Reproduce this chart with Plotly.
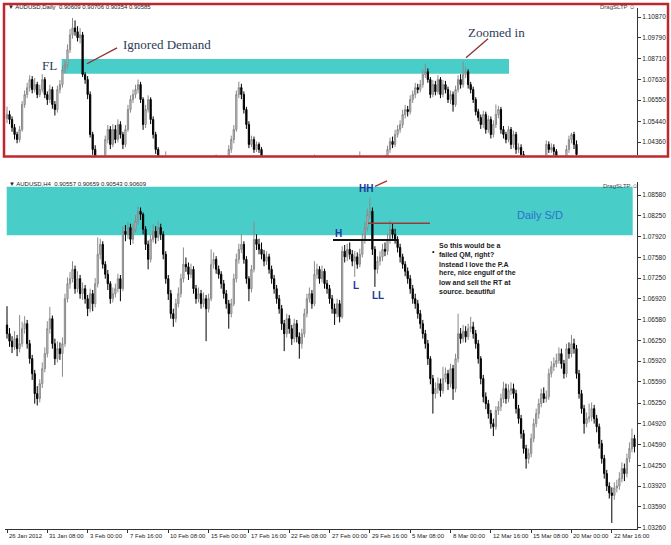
import plotly.graph_objects as go

W, H = 671, 545

# ---------------- Daily chart (top panel) ----------------
d1_first_open = 1.0560
d1_closes = [
    1.0580, 1.0554, 1.0512, 1.0476, 1.0450, 1.0502, 1.0632, 1.0684, 1.0720, 1.0762,
    1.0710, 1.0736, 1.0684, 1.0710, 1.0762, 1.0684, 1.0658, 1.0710, 1.0632, 1.0606,
    1.0710, 1.0736, 1.0813, 1.0839, 1.0917, 1.0995, 1.1031, 1.1011, 1.0980, 1.0995,
    1.0788, 1.0762, 1.0684, 1.0476, 1.0398, 1.0346, 1.0294, 1.0268, 1.0320, 1.0450,
    1.0502, 1.0424, 1.0502, 1.0450, 1.0528, 1.0476, 1.0424, 1.0502, 1.0606, 1.0658,
    1.0684, 1.0710, 1.0736, 1.0658, 1.0528, 1.0606, 1.0658, 1.0554, 1.0476, 1.0398,
    1.0320, 1.0290, 1.0305, 1.0330, 1.0300, 1.0270, 1.0250, 1.0235, 1.0220, 1.0240,
    1.0210, 1.0190, 1.0200, 1.0175, 1.0160, 1.0185, 1.0205, 1.0230, 1.0250, 1.0270,
    1.0290, 1.0300, 1.0320, 1.0335, 1.0310, 1.0300, 1.0320, 1.0340, 1.0398, 1.0450,
    1.0502, 1.0684, 1.0720, 1.0684, 1.0606, 1.0528, 1.0424, 1.0450, 1.0398, 1.0424,
    1.0398, 1.0346, 1.0320, 1.0290, 1.0260, 1.0230, 1.0210, 1.0180, 1.0150, 1.0120,
    1.0100, 1.0080, 1.0110, 1.0140, 1.0170, 1.0200, 1.0230, 1.0260, 1.0290, 1.0310,
    1.0330, 1.0340, 1.0345, 1.0320, 1.0290, 1.0260, 1.0230, 1.0200, 1.0170, 1.0140,
    1.0110, 1.0090, 1.0110, 1.0140, 1.0170, 1.0200, 1.0240, 1.0270, 1.0300, 1.0330,
    1.0345, 1.0310, 1.0280, 1.0260, 1.0240, 1.0260, 1.0280, 1.0300, 1.0320, 1.0340,
    1.0355, 1.0398, 1.0440, 1.0424, 1.0476, 1.0502, 1.0528, 1.0580, 1.0606, 1.0595,
    1.0658, 1.0684, 1.0720, 1.0710, 1.0736, 1.0788, 1.0803, 1.0762, 1.0684, 1.0736,
    1.0699, 1.0762, 1.0684, 1.0736, 1.0710, 1.0658, 1.0684, 1.0632, 1.0710, 1.0762,
    1.0736, 1.0788, 1.0803, 1.0736, 1.0710, 1.0658, 1.0595, 1.0564, 1.0528, 1.0580,
    1.0502, 1.0554, 1.0476, 1.0528, 1.0580, 1.0606, 1.0502, 1.0476, 1.0450, 1.0502,
    1.0424, 1.0476, 1.0398, 1.0408, 1.0372, 1.0346, 1.0320, 1.0300, 1.0280, 1.0295,
    1.0310, 1.0330, 1.0345, 1.0350, 1.0424, 1.0398, 1.0408, 1.0388, 1.0320, 1.0300,
    1.0320, 1.0345, 1.0398, 1.0450, 1.0476, 1.0424, 1.0372,
]
d1_highs = [
    1.0621, 1.0600, 1.0570, 1.0530, 1.0490, 1.0520, 1.0650, 1.0705, 1.0745, 1.0785,
    1.0780, 1.0770, 1.0750, 1.0735, 1.0790, 1.0775, 1.0700, 1.0735, 1.0725, 1.0650,
    1.0730, 1.0760, 1.0835, 1.0860, 1.0945, 1.1025, 1.1083, 1.1070, 1.1040, 1.1030,
    1.1010, 1.0800, 1.0780, 1.0700, 1.0490, 1.0420, 1.0365, 1.0310, 1.0340, 1.0470,
    1.0525, 1.0520, 1.0530, 1.0525, 1.0555, 1.0545, 1.0490, 1.0525, 1.0630, 1.0680,
    1.0710, 1.0735, 1.0762, 1.0750, 1.0670, 1.0630, 1.0680, 1.0670, 1.0570, 1.0490,
    1.0410, 1.0335, 1.0325, 1.0388, 1.0345, 1.0315, 1.0290, 1.0265, 1.0250, 1.0260,
    1.0255, 1.0225, 1.0220, 1.0215, 1.0190, 1.0200, 1.0225, 1.0250, 1.0270, 1.0290,
    1.0310, 1.0320, 1.0340, 1.0372, 1.0350, 1.0330, 1.0340, 1.0360, 1.0420, 1.0470,
    1.0525, 1.0705, 1.0751, 1.0740, 1.0700, 1.0620, 1.0545, 1.0470, 1.0465, 1.0440,
    1.0435, 1.0410, 1.0360, 1.0335, 1.0305, 1.0275, 1.0245, 1.0225, 1.0195, 1.0165,
    1.0135, 1.0115, 1.0125, 1.0155, 1.0185, 1.0215, 1.0245, 1.0275, 1.0305, 1.0325,
    1.0345, 1.0355, 1.0372, 1.0360, 1.0335, 1.0305, 1.0275, 1.0245, 1.0215, 1.0185,
    1.0155, 1.0125, 1.0125, 1.0155, 1.0185, 1.0215, 1.0255, 1.0285, 1.0315, 1.0345,
    1.0388, 1.0360, 1.0325, 1.0295, 1.0275, 1.0275, 1.0295, 1.0315, 1.0335, 1.0355,
    1.0370, 1.0418, 1.0460, 1.0465, 1.0500, 1.0525, 1.0550, 1.0605, 1.0630, 1.0625,
    1.0680, 1.0705, 1.0745, 1.0740, 1.0760, 1.0815, 1.0844, 1.0820, 1.0775, 1.0760,
    1.0755, 1.0785, 1.0775, 1.0760, 1.0755, 1.0725, 1.0705, 1.0700, 1.0730, 1.0785,
    1.0790, 1.0855, 1.0830, 1.0815, 1.0750, 1.0725, 1.0670, 1.0610, 1.0580, 1.0600,
    1.0595, 1.0575, 1.0570, 1.0550, 1.0632, 1.0625, 1.0620, 1.0520, 1.0490, 1.0520,
    1.0515, 1.0495, 1.0490, 1.0430, 1.0425, 1.0390, 1.0360, 1.0335, 1.0315, 1.0310,
    1.0325, 1.0345, 1.0360, 1.0365, 1.0445, 1.0440, 1.0430, 1.0425, 1.0400, 1.0335,
    1.0340, 1.0360, 1.0420, 1.0470, 1.0485, 1.0490, 1.0445,
]
d1_lows = [
    1.0535, 1.0530, 1.0490, 1.0450, 1.0430, 1.0435, 1.0490, 1.0615, 1.0665, 1.0700,
    1.0690, 1.0695, 1.0665, 1.0670, 1.0695, 1.0665, 1.0630, 1.0640, 1.0610, 1.0575,
    1.0590, 1.0690, 1.0720, 1.0795, 1.0820, 1.0900, 1.0975, 1.0990, 1.0960, 1.0950,
    1.0775, 1.0740, 1.0660, 1.0460, 1.0370, 1.0320, 1.0270, 1.0240, 1.0250, 1.0300,
    1.0430, 1.0400, 1.0410, 1.0430, 1.0435, 1.0455, 1.0400, 1.0410, 1.0490, 1.0590,
    1.0640, 1.0665, 1.0690, 1.0640, 1.0500, 1.0510, 1.0590, 1.0530, 1.0455, 1.0375,
    1.0300, 1.0270, 1.0275, 1.0290, 1.0280, 1.0250, 1.0230, 1.0215, 1.0200, 1.0205,
    1.0190, 1.0170, 1.0175, 1.0155, 1.0140, 1.0145, 1.0170, 1.0190, 1.0215, 1.0235,
    1.0255, 1.0275, 1.0285, 1.0305, 1.0290, 1.0280, 1.0285, 1.0305, 1.0325, 1.0380,
    1.0430, 1.0490, 1.0665, 1.0660, 1.0585, 1.0505, 1.0405, 1.0410, 1.0380, 1.0385,
    1.0380, 1.0325, 1.0300, 1.0270, 1.0240, 1.0210, 1.0190, 1.0160, 1.0130, 1.0100,
    1.0080, 1.0060, 1.0065, 1.0095, 1.0125, 1.0155, 1.0185, 1.0215, 1.0245, 1.0275,
    1.0295, 1.0315, 1.0325, 1.0300, 1.0270, 1.0240, 1.0210, 1.0180, 1.0150, 1.0120,
    1.0090, 1.0070, 1.0075, 1.0095, 1.0125, 1.0155, 1.0185, 1.0225, 1.0255, 1.0285,
    1.0315, 1.0290, 1.0260, 1.0240, 1.0220, 1.0225, 1.0245, 1.0265, 1.0285, 1.0305,
    1.0325, 1.0340, 1.0380, 1.0405, 1.0410, 1.0460, 1.0485, 1.0510, 1.0560, 1.0570,
    1.0580, 1.0640, 1.0665, 1.0690, 1.0695, 1.0720, 1.0770, 1.0745, 1.0665, 1.0670,
    1.0680, 1.0685, 1.0665, 1.0670, 1.0690, 1.0640, 1.0635, 1.0595, 1.0620, 1.0695,
    1.0715, 1.0720, 1.0770, 1.0715, 1.0690, 1.0640, 1.0575, 1.0545, 1.0505, 1.0510,
    1.0480, 1.0485, 1.0455, 1.0460, 1.0510, 1.0560, 1.0480, 1.0455, 1.0430, 1.0435,
    1.0400, 1.0405, 1.0375, 1.0380, 1.0350, 1.0325, 1.0300, 1.0280, 1.0260, 1.0265,
    1.0280, 1.0295, 1.0315, 1.0330, 1.0335, 1.0380, 1.0380, 1.0365, 1.0300, 1.0280,
    1.0285, 1.0305, 1.0330, 1.0380, 1.0430, 1.0400, 1.0350,
]
d1_tick_vals = [1.10870, 1.09790, 1.08710, 1.07630, 1.06550, 1.05440, 1.04360]
d1_zone = [1.07926, 1.08690]

# ---------------- H4 chart (bottom panel) ----------------
h4_first_open = 1.0650
h4_closes = [
    1.0636, 1.0624, 1.0615, 1.0628, 1.0612, 1.0620, 1.0644, 1.0652, 1.0620, 1.0596,
    1.0572, 1.0540, 1.0532, 1.0556, 1.0580, 1.0604, 1.0644, 1.0660, 1.0620, 1.0596,
    1.0612, 1.0604, 1.0620, 1.0692, 1.0716, 1.0724, 1.0739, 1.0708, 1.0724, 1.0700,
    1.0708, 1.0692, 1.0676, 1.0700, 1.0684, 1.0716, 1.0763, 1.0779, 1.0747, 1.0731,
    1.0716, 1.0692, 1.0700, 1.0708, 1.0724, 1.0708, 1.0800, 1.0795, 1.0806, 1.0787,
    1.0803, 1.0816, 1.0832, 1.0827, 1.0803, 1.0779, 1.0755, 1.0787, 1.0800, 1.0790,
    1.0806, 1.0795, 1.0763, 1.0724, 1.0700, 1.0668, 1.0660, 1.0684, 1.0700, 1.0724,
    1.0747, 1.0743, 1.0731, 1.0739, 1.0708, 1.0692, 1.0700, 1.0684, 1.0692, 1.0676,
    1.0692, 1.0747, 1.0755, 1.0739, 1.0731, 1.0716, 1.0700, 1.0684, 1.0668, 1.0684,
    1.0724, 1.0755, 1.0771, 1.0779, 1.0755, 1.0724, 1.0708, 1.0739, 1.0787, 1.0779,
    1.0771, 1.0763, 1.0752, 1.0759, 1.0739, 1.0724, 1.0708, 1.0692, 1.0676, 1.0652,
    1.0636, 1.0660, 1.0644, 1.0628, 1.0652, 1.0631, 1.0620, 1.0636, 1.0668, 1.0692,
    1.0700, 1.0684, 1.0731, 1.0739, 1.0724, 1.0736, 1.0716, 1.0708, 1.0692, 1.0676,
    1.0668, 1.0684, 1.0663, 1.0768, 1.0759, 1.0771, 1.0763, 1.0752, 1.0759, 1.0747,
    1.0763, 1.0787, 1.0806, 1.0827, 1.0832, 1.0771, 1.0739, 1.0752, 1.0759, 1.0771,
    1.0768, 1.0787, 1.0803, 1.0795, 1.0787, 1.0774, 1.0759, 1.0747, 1.0736, 1.0724,
    1.0708, 1.0692, 1.0684, 1.0668, 1.0652, 1.0636, 1.0620, 1.0596, 1.0564, 1.0540,
    1.0548, 1.0556, 1.0545, 1.0564, 1.0572, 1.0556, 1.0580, 1.0548, 1.0596, 1.0636,
    1.0628, 1.0640, 1.0631, 1.0644, 1.0647, 1.0636, 1.0620, 1.0596, 1.0564, 1.0535,
    1.0524, 1.0508, 1.0492, 1.0487, 1.0513, 1.0519, 1.0532, 1.0548, 1.0532, 1.0545,
    1.0548, 1.0540, 1.0516, 1.0500, 1.0476, 1.0452, 1.0436, 1.0444, 1.0468, 1.0492,
    1.0508, 1.0524, 1.0540, 1.0532, 1.0535, 1.0572, 1.0583, 1.0588, 1.0593, 1.0604,
    1.0588, 1.0572, 1.0612, 1.0604, 1.0620, 1.0612, 1.0572, 1.0540, 1.0516, 1.0492,
    1.0500, 1.0503, 1.0516, 1.0500, 1.0487, 1.0460, 1.0436, 1.0412, 1.0392, 1.0381,
    1.0377, 1.0389, 1.0392, 1.0404, 1.0420, 1.0412, 1.0436, 1.0452, 1.0468, 1.0455,
]
h4_highs = [
    1.0680, 1.0645, 1.0632, 1.0640, 1.0634, 1.0666, 1.0655, 1.0664, 1.0658, 1.0626,
    1.0602, 1.0578, 1.0552, 1.0563, 1.0590, 1.0614, 1.0656, 1.0679, 1.0665, 1.0628,
    1.0624, 1.0622, 1.0630, 1.0700, 1.0726, 1.0735, 1.0752, 1.0745, 1.0736, 1.0730,
    1.0718, 1.0714, 1.0698, 1.0708, 1.0706, 1.0725, 1.0790, 1.0788, 1.0784, 1.0752,
    1.0738, 1.0720, 1.0710, 1.0716, 1.0732, 1.0730, 1.0808, 1.0810, 1.0815, 1.0812,
    1.0812, 1.0826, 1.0840, 1.0838, 1.0830, 1.0808, 1.0785, 1.0795, 1.0811, 1.0808,
    1.0816, 1.0812, 1.0800, 1.0768, 1.0730, 1.0706, 1.0676, 1.0692, 1.0710, 1.0732,
    1.0774, 1.0758, 1.0750, 1.0748, 1.0744, 1.0714, 1.0710, 1.0706, 1.0702, 1.0698,
    1.0700, 1.0771, 1.0766, 1.0760, 1.0745, 1.0736, 1.0722, 1.0706, 1.0690, 1.0692,
    1.0732, 1.0764, 1.0780, 1.0795, 1.0784, 1.0760, 1.0728, 1.0746, 1.0816, 1.0795,
    1.0788, 1.0782, 1.0770, 1.0768, 1.0764, 1.0745, 1.0730, 1.0714, 1.0698, 1.0682,
    1.0658, 1.0668, 1.0666, 1.0650, 1.0660, 1.0658, 1.0638, 1.0644, 1.0676, 1.0700,
    1.0710, 1.0706, 1.0752, 1.0748, 1.0744, 1.0745, 1.0740, 1.0722, 1.0714, 1.0698,
    1.0684, 1.0692, 1.0690, 1.0776, 1.0778, 1.0780, 1.0782, 1.0770, 1.0768, 1.0766,
    1.0772, 1.0796, 1.0815, 1.0836, 1.0854, 1.0838, 1.0776, 1.0760, 1.0768, 1.0780,
    1.0782, 1.0796, 1.0818, 1.0812, 1.0804, 1.0792, 1.0780, 1.0764, 1.0752, 1.0742,
    1.0730, 1.0714, 1.0700, 1.0690, 1.0674, 1.0658, 1.0642, 1.0626, 1.0600, 1.0570,
    1.0558, 1.0566, 1.0564, 1.0583, 1.0582, 1.0578, 1.0588, 1.0586, 1.0604, 1.0668,
    1.0645, 1.0650, 1.0648, 1.0652, 1.0663, 1.0655, 1.0642, 1.0626, 1.0600, 1.0570,
    1.0542, 1.0530, 1.0514, 1.0500, 1.0520, 1.0528, 1.0540, 1.0559, 1.0556, 1.0555,
    1.0558, 1.0556, 1.0546, 1.0522, 1.0506, 1.0482, 1.0458, 1.0452, 1.0476, 1.0500,
    1.0516, 1.0532, 1.0548, 1.0550, 1.0545, 1.0580, 1.0592, 1.0598, 1.0604, 1.0614,
    1.0612, 1.0594, 1.0620, 1.0622, 1.0634, 1.0628, 1.0618, 1.0578, 1.0546, 1.0522,
    1.0510, 1.0524, 1.0526, 1.0522, 1.0506, 1.0492, 1.0466, 1.0442, 1.0418, 1.0398,
    1.0390, 1.0398, 1.0402, 1.0414, 1.0430, 1.0428, 1.0444, 1.0462, 1.0484, 1.0474,
]
h4_lows = [
    1.0628, 1.0615, 1.0605, 1.0610, 1.0600, 1.0606, 1.0615, 1.0636, 1.0612, 1.0588,
    1.0562, 1.0524, 1.0521, 1.0526, 1.0549, 1.0574, 1.0598, 1.0636, 1.0612, 1.0586,
    1.0590, 1.0594, 1.0567, 1.0615, 1.0686, 1.0708, 1.0718, 1.0700, 1.0702, 1.0692,
    1.0690, 1.0684, 1.0664, 1.0670, 1.0672, 1.0678, 1.0710, 1.0755, 1.0740, 1.0724,
    1.0706, 1.0684, 1.0686, 1.0694, 1.0702, 1.0688, 1.0704, 1.0784, 1.0788, 1.0778,
    1.0780, 1.0798, 1.0810, 1.0818, 1.0795, 1.0770, 1.0739, 1.0750, 1.0782, 1.0780,
    1.0784, 1.0786, 1.0755, 1.0716, 1.0690, 1.0660, 1.0647, 1.0654, 1.0678, 1.0694,
    1.0718, 1.0735, 1.0722, 1.0725, 1.0700, 1.0684, 1.0686, 1.0676, 1.0678, 1.0624,
    1.0670, 1.0688, 1.0740, 1.0732, 1.0724, 1.0708, 1.0692, 1.0676, 1.0644, 1.0662,
    1.0680, 1.0718, 1.0748, 1.0765, 1.0748, 1.0716, 1.0688, 1.0702, 1.0734, 1.0770,
    1.0763, 1.0755, 1.0744, 1.0746, 1.0732, 1.0716, 1.0700, 1.0684, 1.0668, 1.0642,
    1.0608, 1.0630, 1.0636, 1.0618, 1.0622, 1.0622, 1.0596, 1.0612, 1.0630, 1.0662,
    1.0686, 1.0676, 1.0680, 1.0724, 1.0716, 1.0718, 1.0708, 1.0700, 1.0684, 1.0668,
    1.0650, 1.0662, 1.0654, 1.0660, 1.0750, 1.0752, 1.0755, 1.0744, 1.0727, 1.0740,
    1.0742, 1.0758, 1.0780, 1.0800, 1.0820, 1.0762, 1.0711, 1.0732, 1.0745, 1.0752,
    1.0760, 1.0762, 1.0780, 1.0788, 1.0780, 1.0766, 1.0750, 1.0740, 1.0728, 1.0716,
    1.0700, 1.0684, 1.0676, 1.0660, 1.0644, 1.0628, 1.0612, 1.0586, 1.0555, 1.0508,
    1.0532, 1.0540, 1.0535, 1.0540, 1.0558, 1.0546, 1.0550, 1.0530, 1.0542, 1.0590,
    1.0620, 1.0622, 1.0622, 1.0626, 1.0638, 1.0628, 1.0612, 1.0588, 1.0555, 1.0526,
    1.0515, 1.0500, 1.0484, 1.0472, 1.0482, 1.0506, 1.0512, 1.0525, 1.0524, 1.0526,
    1.0538, 1.0532, 1.0508, 1.0492, 1.0468, 1.0444, 1.0420, 1.0428, 1.0438, 1.0462,
    1.0486, 1.0500, 1.0518, 1.0525, 1.0526, 1.0530, 1.0566, 1.0576, 1.0582, 1.0588,
    1.0580, 1.0564, 1.0566, 1.0596, 1.0598, 1.0604, 1.0564, 1.0532, 1.0508, 1.0476,
    1.0486, 1.0494, 1.0496, 1.0492, 1.0478, 1.0452, 1.0428, 1.0404, 1.0384, 1.0372,
    1.0333, 1.0370, 1.0382, 1.0386, 1.0398, 1.0400, 1.0406, 1.0430, 1.0446, 1.0446,
]
h4_tick_vals = [1.08580, 1.08250, 1.07920, 1.07580, 1.07250, 1.06920, 1.06580, 1.06250,
                1.05920, 1.05590, 1.05250, 1.04920, 1.04590, 1.04250, 1.03920, 1.03590, 1.03260]
h4_zone = [1.07937, 1.08714]
h4_time_idx = [0, 16, 32, 48, 64, 80, 96, 112, 128, 144, 160, 176, 192, 208, 224, 240]
h4_time_labels = ["26 Jan 2012", "31 Jan 08:00", "3 Feb 00:00", "7 Feb 16:00", "10 Feb 08:00",
                  "15 Feb 00:00", "17 Feb 16:00", "22 Feb 08:00", "27 Feb 00:00", "29 Feb 16:00",
                  "5 Mar 08:00", "8 Mar 00:00", "12 Mar 16:00", "15 Mar 08:00", "20 Mar 00:00",
                  "22 Mar 16:00"]

comment_lines = ["So this would be a", "failed QM, right?", "Instead I love the P.A",
                 "here, nice engulf of the", "low and sell the RT at", "source. beautiful"]

# ---------------- build ----------------
def px(x):
    return x / W


def py(y):
    return 1 - y / H


d1_opens = [d1_first_open] + d1_closes[:-1]
h4_opens = [h4_first_open] + h4_closes[:-1]
d1_x = list(range(len(d1_closes)))
h4_x = list(range(len(h4_closes)))

inc = dict(line=dict(color="#8a8a8a", width=1), fillcolor="#d4d4d4")
dec = dict(line=dict(color="#000000", width=1), fillcolor="#000000")

fig = go.Figure()
fig.add_trace(go.Candlestick(x=d1_x, open=d1_opens, high=d1_highs, low=d1_lows, close=d1_closes,
                             xaxis="x", yaxis="y", increasing=inc, decreasing=dec,
                             whiskerwidth=0, hoverinfo="skip", showlegend=False))
fig.add_trace(go.Candlestick(x=h4_x, open=h4_opens, high=h4_highs, low=h4_lows, close=h4_closes,
                             xaxis="x2", yaxis="y2", increasing=inc, decreasing=dec,
                             whiskerwidth=0, hoverinfo="skip", showlegend=False))

xdom = [px(5), px(637)]
xr = [(5 - 7) / 2.52, (637 - 7) / 2.52]
tickfont = dict(family="Liberation Sans, Arial, sans-serif", size=6.5, color="#222222")

fig.update_layout(
    width=W, height=H,
    margin=dict(l=0, r=0, t=0, b=0),
    paper_bgcolor="white", plot_bgcolor="rgba(0,0,0,0)",
    showlegend=False,
    xaxis=dict(domain=xdom, range=xr, anchor="y", showgrid=False, zeroline=False,
               showticklabels=False, ticks="", showline=False,
               rangeslider=dict(visible=False), fixedrange=True),
    yaxis=dict(domain=[py(156), py(8)], range=[1.03669, 1.11348], anchor="x", side="right",
               showgrid=False, zeroline=False, showline=True, linecolor="#333333", linewidth=1,
               ticks="outside", ticklen=3, tickcolor="#333333",
               tickvals=d1_tick_vals, ticktext=[f"{v:.5f}" for v in d1_tick_vals],
               tickfont=tickfont, fixedrange=True),
    xaxis2=dict(domain=xdom, range=xr, anchor="y2", showgrid=False, zeroline=False,
                showticklabels=False, ticks="outside", ticklen=3, tickcolor="#333333",
                tickvals=h4_time_idx, showline=True, linecolor="#333333", linewidth=1,
                rangeslider=dict(visible=False), fixedrange=True),
    yaxis2=dict(domain=[py(531), py(183)], range=[1.03232, 1.08783], anchor="x2", side="right",
                showgrid=False, zeroline=False, showline=True, linecolor="#333333", linewidth=1,
                ticks="outside", ticklen=3, tickcolor="#333333",
                tickvals=h4_tick_vals, ticktext=[f"{v:.5f}" for v in h4_tick_vals],
                tickfont=tickfont, fixedrange=True),
)

shapes = []
# supply/demand zones
shapes.append(dict(type="rect", xref="paper", yref="y", x0=px(61.7), x1=px(509),
                   y0=d1_zone[0], y1=d1_zone[1], fillcolor="#48cdc9", line=dict(width=0), layer="below"))
shapes.append(dict(type="rect", xref="paper", yref="y2", x0=px(6.7), x1=px(632.7),
                   y0=h4_zone[0], y1=h4_zone[1], fillcolor="#48cdc9", line=dict(width=0), layer="below"))
# red frame around daily panel
shapes.append(dict(type="rect", xref="paper", yref="paper", x0=px(4), x1=px(668), y0=py(157), y1=py(4),
                   line=dict(color="#c0272d", width=2.5), fillcolor="rgba(0,0,0,0)", layer="above"))
lc = "#8e3030"
for (x0, y0, x1, y1, col, w) in [
    (87, 64, 117, 48, lc, 1.3),          # Ignored Demand pointer
    (466, 58, 488, 39, lc, 1.3),         # Zoomed in pointer
    (375, 187, 387, 181.5, "#b03030", 1.3),  # HH pointer
    (368, 224, 430, 224, "#9b3a3a", 1.5),    # upper horizontal
    (333, 241, 398, 241, "#111111", 2),      # H level
]:
    shapes.append(dict(type="line", xref="paper", yref="paper", x0=px(x0), y0=py(y0), x1=px(x1), y1=py(y1),
                       line=dict(color=col, width=w), layer="above"))
fig.update_layout(shapes=shapes)

ann = []
small = dict(family="Liberation Sans, Arial, sans-serif", size=6, color="#222222")
for i, lab in zip(h4_time_idx, h4_time_labels):
    ann.append(dict(x=i, xref="x2", y=py(538), yref="paper", text=lab, showarrow=False,
                    xanchor="left", yanchor="middle", xshift=0, font=small))


def txt(x, y, s, font, xanchor="left"):
    ann.append(dict(x=px(x), y=py(y), xref="paper", yref="paper", text=s, showarrow=False,
                    xanchor=xanchor, yanchor="middle", font=font))


txt(6, 7.5, "▼ AUDUSD,Daily  0.90609 0.90706 0.90354 0.90585", small)
txt(7, 185, "▼ AUDUSD,H4  0.90557 0.90659 0.90543 0.90609", small)
grey = dict(family="Liberation Sans, Arial, sans-serif", size=6, color="#444444")
txt(598, 7.5, "DragSLTP ☺", grey)
txt(601, 187, "DragSLTP ☺", grey)

serif = dict(family="Liberation Serif, DejaVu Serif, serif", size=13, color="#2b3b57")
txt(49, 66, "FL", serif, "center")
txt(121, 45, "Ignored Demand", serif)
txt(466, 33, "Zoomed in", serif)

txt(540, 216, "Daily S/D", dict(family="Liberation Sans, Arial, sans-serif", size=11, color="#2e6fcf"), "center")
lab = dict(family="Liberation Sans, Arial, sans-serif", size=10, color="#23399a")
txt(366, 189, "<b>HH</b>", lab, "center")
txt(338, 234, "<b>H</b>", lab, "center")
txt(356, 287, "<b>L</b>", lab, "center")
txt(378, 297, "<b>LL</b>", lab, "center")

cf = dict(family="Liberation Sans Narrow, Liberation Sans, Arial, sans-serif", size=7, color="#1a1a1a")
for k, line in enumerate(comment_lines):
    txt(437, 246.7 + 9.2 * k, f"<b>{line}</b>", cf)
txt(430, 252, "•", dict(family="Liberation Sans, sans-serif", size=7, color="#111111"))

fig.update_layout(annotations=ann)
fig.write_html("out.html", config={"displayModeBar": False},
               post_script="document.body.style.margin='0px';")
